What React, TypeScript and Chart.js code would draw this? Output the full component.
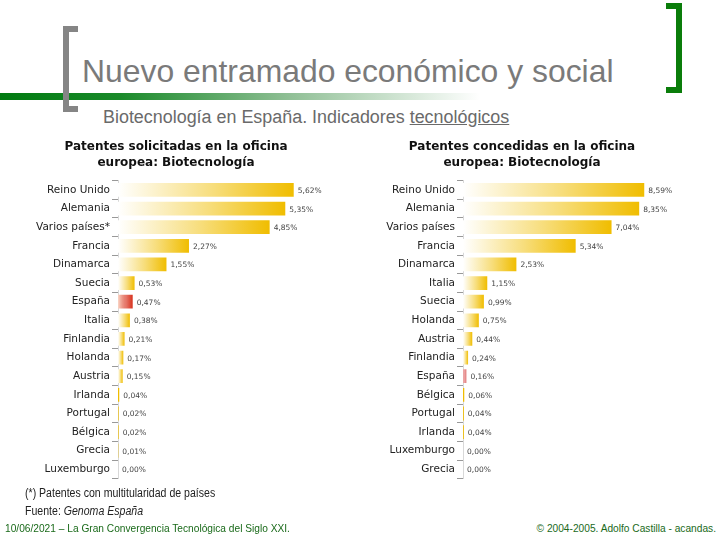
import React, { useEffect, useRef } from "react";
import { Chart, registerables } from "chart.js";

Chart.register(...registerables);

const solicitadasPaises = [
  "Reino Unido", "Alemania", "Varios países*", "Francia", "Dinamarca", "Suecia",
  "España", "Italia", "Finlandia", "Holanda", "Austria", "Irlanda", "Portugal",
  "Bélgica", "Grecia", "Luxemburgo",
];
const solicitadasValores = [5.62, 5.35, 4.85, 2.27, 1.55, 0.53, 0.47, 0.38, 0.21, 0.17, 0.15, 0.04, 0.02, 0.02, 0.01, 0.0];

const concedidasPaises = [
  "Reino Unido", "Alemania", "Varios países", "Francia", "Dinamarca", "Italia",
  "Suecia", "Holanda", "Austria", "Finlandia", "España", "Bélgica", "Portugal",
  "Irlanda", "Luxemburgo", "Grecia",
];
const concedidasValores = [8.59, 8.35, 7.04, 5.34, 2.53, 1.15, 0.99, 0.75, 0.44, 0.24, 0.16, 0.06, 0.04, 0.04, 0.0, 0.0];

const tituloSolicitadas = ["Patentes solicitadas en la oficina", "europea: Biotecnología"];
const tituloConcedidas = ["Patentes concedidas en la oficina", "europea: Biotecnología"];

const fmt = (v: number) => v.toFixed(2).replace(".", ",") + "%";

const valueLabels = {
  id: "valueLabels",
  afterDatasetsDraw(chart: any) {
    const { ctx } = chart;
    const meta = chart.getDatasetMeta(0);
    const data = chart.data.datasets[0].data as number[];
    ctx.save();
    ctx.font = "7.5px 'DejaVu Sans'";
    ctx.fillStyle = "#444";
    ctx.textBaseline = "middle";
    ctx.textAlign = "left";
    meta.data.forEach((bar: any, i: number) => {
      ctx.fillText(fmt(data[i]), bar.x + 4, bar.y + 1);
    });
    ctx.restore();
  },
};

function makeChart(
  canvas: HTMLCanvasElement,
  labels: string[],
  values: number[],
  title: string[],
  xMax: number,
  yWidth: number,
  spainColors: [string, string]
) {
  return new Chart(canvas, {
    type: "bar",
    data: {
      labels,
      datasets: [
        {
          data: values,
          barPercentage: 0.74,
          categoryPercentage: 1,
          backgroundColor: (c: any) => {
            const chart = c.chart;
            const isSpain = labels[c.dataIndex] === "España";
            const end = isSpain ? spainColors[1] : "#f0bd00";
            const start = isSpain ? spainColors[0] : "#ffffff";
            if (!chart.chartArea || c.raw === undefined) return end;
            const x0 = chart.scales.x.getPixelForValue(0);
            const x1 = chart.scales.x.getPixelForValue(c.raw);
            if (x1 - x0 < 2) return end;
            const g = chart.ctx.createLinearGradient(x0, 0, x1, 0);
            g.addColorStop(0, start);
            g.addColorStop(0.55, isSpain ? spainColors[1] + "aa" : "#f7dd7a");
            g.addColorStop(1, end);
            return g;
          },
          borderWidth: 0,
        },
      ],
    },
    options: {
      indexAxis: "y",
      animation: false,
      responsive: false,
      maintainAspectRatio: false,
      layout: { padding: { left: 0, right: 10, top: 0, bottom: 0 } },
      plugins: {
        legend: { display: false },
        tooltip: { enabled: false },
        title: {
          display: true,
          text: title,
          color: "#111",
          font: { family: "'DejaVu Sans'", size: 12, weight: "bold", lineHeight: 1.4 },
          padding: { top: 3, bottom: 9 },
        },
      },
      scales: {
        x: {
          display: false,
          min: 0,
          max: xMax,
        },
        y: {
          afterFit: (s: any) => {
            s.width = yWidth;
          },
          border: { display: true, color: "#d8d8d8", width: 1 },
          grid: {
            offset: true,
            drawOnChartArea: false,
            drawTicks: true,
            tickLength: 6,
            color: "#999",
          },
          ticks: {
            color: "#222",
            padding: 2,
            font: { family: "'DejaVu Sans'", size: 10.5 },
            autoSkip: false,
          },
        },
      },
    },
    plugins: [valueLabels],
  } as any);
}

export default function App() {
  const leftRef = useRef<HTMLCanvasElement>(null);
  const rightRef = useRef<HTMLCanvasElement>(null);

  useEffect(() => {
    const a = makeChart(leftRef.current!, solicitadasPaises, solicitadasValores, tituloSolicitadas, 7.1, 106, ["#fbd8c8", "#d8321e"]);
    const b = makeChart(rightRef.current!, concedidasPaises, concedidasValores, tituloConcedidas, 10, 93, ["#f2b0b0", "#e07070"]);
    return () => {
      a.destroy();
      b.destroy();
    };
  }, []);

  const font = "'Liberation Sans', Arial, sans-serif";

  return (
    <div style={{ position: "absolute", left: 0, top: 0, width: 720, height: 540, background: "#fff", overflow: "hidden", fontFamily: font }}>
      {/* green line */}
      <div style={{ position: "absolute", left: 0, top: 93, width: 480, height: 7, background: "linear-gradient(to right, #007a10 0%, #1a8a2a 25%, #8fbf95 60%, #ffffff 100%)" }} />
      {/* left gray bracket */}
      <div style={{ position: "absolute", left: 63, top: 26, width: 6, height: 86, background: "#858585" }} />
      <div style={{ position: "absolute", left: 63, top: 26, width: 15, height: 6, background: "#858585" }} />
      <div style={{ position: "absolute", left: 63, top: 106, width: 15, height: 6, background: "#858585" }} />
      {/* right green bracket */}
      <div style={{ position: "absolute", left: 676, top: 3, width: 6, height: 90, background: "#0a7d0a" }} />
      <div style={{ position: "absolute", left: 666, top: 3, width: 16, height: 6, background: "#0a7d0a" }} />
      <div style={{ position: "absolute", left: 666, top: 87, width: 16, height: 6, background: "#0a7d0a" }} />

      <div style={{ position: "absolute", left: 82, top: 53, fontSize: 32, lineHeight: "36px", color: "#7a7a7a", whiteSpace: "nowrap", transformOrigin: "0 0", transform: "scaleX(0.996)" }}>
        Nuevo entramado económico y social
      </div>
      <div style={{ position: "absolute", left: 103, top: 106, fontSize: 18, lineHeight: "22px", color: "#6a6a6a", whiteSpace: "nowrap", transformOrigin: "0 0", transform: "scaleX(0.995)" }}>
        Biotecnología en España. Indicadores <span style={{ textDecoration: "underline" }}>tecnológicos</span>
      </div>

      <canvas ref={leftRef} width={338} height={352} style={{ position: "absolute", left: 12, top: 135, width: 338, height: 352 }} />
      <canvas ref={rightRef} width={314} height={352} style={{ position: "absolute", left: 370, top: 135, width: 314, height: 352 }} />

      <div style={{ position: "absolute", left: 25, top: 486, fontSize: 12, lineHeight: "14px", color: "#222", whiteSpace: "nowrap", transformOrigin: "0 0", transform: "scaleX(0.88)" }}>
        (*) Patentes con multitularidad de países
      </div>
      <div style={{ position: "absolute", left: 25, top: 504, fontSize: 12, lineHeight: "14px", color: "#222", whiteSpace: "nowrap", transformOrigin: "0 0", transform: "scaleX(0.88)" }}>
        Fuente: <i>Genoma España</i>
      </div>
      <div style={{ position: "absolute", left: 5, top: 522, fontSize: 11, lineHeight: "13px", color: "#1a6a1a", whiteSpace: "nowrap", transformOrigin: "0 0", transform: "scaleX(0.925)" }}>
        10/06/2021 – La Gran Convergencia Tecnológica del Siglo XXI.
      </div>
      <div style={{ position: "absolute", right: 4, top: 522, fontSize: 11, lineHeight: "13px", color: "#1a6a1a", whiteSpace: "nowrap", transformOrigin: "100% 0", transform: "scaleX(0.925)" }}>
        © 2004-2005. Adolfo Castilla - acandas.
      </div>
    </div>
  );
}
